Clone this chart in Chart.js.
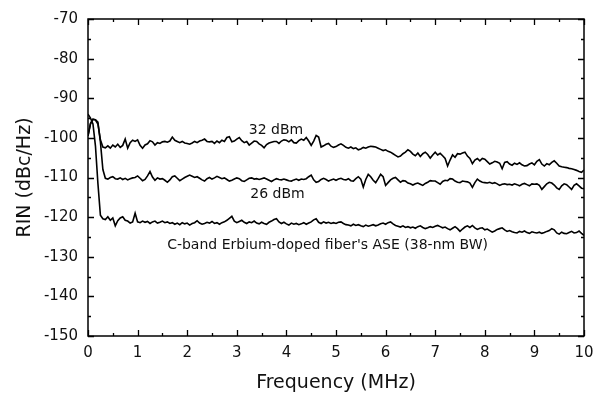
<!DOCTYPE html>
<html>
<head>
<meta charset="utf-8">
<script src="https://cdn.jsdelivr.net/npm/chart.js@4"></script>
<style>
html,body{margin:0;padding:0;background:#fff;}
#wrap{width:611px;height:400px;position:relative;}
</style>
</head>
<body>
<div id="wrap"><canvas id="c" width="611" height="400"></canvas></div>
<script>
const freqMHz = [
0,0.05,0.1,0.15,0.2,0.25,0.3,0.35,0.4,0.45,0.5,0.55,0.6,0.65,0.7,0.75,0.8,0.85,0.9,0.95,
1,1.05,1.1,1.15,1.2,1.25,1.3,1.35,1.4,1.45,1.5,1.55,1.6,1.65,1.7,1.75,1.8,1.85,1.9,1.95,
2,2.05,2.1,2.15,2.2,2.25,2.3,2.35,2.4,2.45,2.5,2.55,2.6,2.65,2.7,2.75,2.8,2.85,2.9,2.95,
3,3.05,3.1,3.15,3.2,3.25,3.3,3.35,3.4,3.45,3.5,3.55,3.6,3.65,3.7,3.75,3.8,3.85,3.9,3.95,
4,4.05,4.1,4.15,4.2,4.25,4.3,4.35,4.4,4.45,4.5,4.55,4.6,4.65,4.7,4.75,4.8,4.85,4.9,4.95,
5,5.05,5.1,5.15,5.2,5.25,5.3,5.35,5.4,5.45,5.5,5.55,5.6,5.65,5.7,5.75,5.8,5.85,5.9,5.95,
6,6.05,6.1,6.15,6.2,6.25,6.3,6.35,6.4,6.45,6.5,6.55,6.6,6.65,6.7,6.75,6.8,6.85,6.9,6.95,
7,7.05,7.1,7.15,7.2,7.25,7.3,7.35,7.4,7.45,7.5,7.55,7.6,7.65,7.7,7.75,7.8,7.85,7.9,7.95,
8,8.05,8.1,8.15,8.2,8.25,8.3,8.35,8.4,8.45,8.5,8.55,8.6,8.65,8.7,8.75,8.8,8.85,8.9,8.95,
9,9.05,9.1,9.15,9.2,9.25,9.3,9.35,9.4,9.45,9.5,9.55,9.6,9.65,9.7,9.75,9.8,9.85,9.9,9.95,
10];

const rin32dBm = [
-99.5,-96.5,-95.3,-95.5,-96.5,-100.5,-102.3,-102.5,-102.0,-102.6,-101.8,-102.3,-101.6,-102.4,-101.9,-100.3,-102.6,-101.2,-100.6,-100.9,
-100.5,-101.9,-102.6,-101.8,-101.5,-100.7,-101.0,-101.8,-101.2,-101.4,-101.0,-100.9,-101.1,-100.8,-99.8,-100.6,-100.9,-101.2,-100.9,-101.3,
-101.4,-101.6,-101.3,-100.9,-101.2,-100.8,-100.6,-100.3,-100.9,-101.0,-100.9,-101.4,-100.8,-101.2,-100.6,-100.9,-99.9,-99.7,-101.0,-100.8,
-100.3,-99.9,-100.7,-101.2,-100.9,-101.8,-101.3,-100.8,-100.9,-101.5,-101.9,-102.5,-101.7,-101.3,-101.1,-100.9,-100.9,-101.4,-100.8,-100.5,
-100.6,-101.0,-100.5,-101.2,-101.3,-100.7,-100.3,-100.6,-99.9,-100.8,-101.9,-100.8,-99.4,-99.8,-102.3,-102.0,-101.6,-101.4,-102.1,-102.4,
-102.2,-101.8,-101.5,-101.9,-102.4,-102.6,-102.3,-102.7,-102.5,-103.0,-102.8,-102.4,-102.6,-102.3,-102.1,-102.2,-102.3,-102.6,-102.9,-103.2,
-103.0,-103.4,-103.6,-104.0,-104.4,-104.8,-104.6,-104.0,-103.6,-103.0,-103.4,-104.1,-104.5,-103.8,-104.7,-104.0,-103.6,-104.2,-105.1,-104.3,
-103.6,-104.3,-103.9,-104.5,-105.2,-107.1,-105.6,-104.3,-104.9,-104.0,-104.1,-103.8,-103.6,-104.6,-105.2,-106.5,-105.6,-105.2,-105.8,-105.2,
-105.4,-106.0,-106.6,-106.3,-105.9,-106.1,-106.4,-107.8,-106.2,-106.0,-106.6,-106.9,-106.4,-106.7,-106.3,-106.8,-107.1,-107.0,-106.6,-106.3,
-106.8,-105.9,-105.5,-106.6,-107.1,-106.5,-106.8,-106.2,-105.8,-106.4,-107.1,-107.3,-107.4,-107.5,-107.7,-107.8,-108.0,-108.2,-108.5,-108.7,
-108.1];

const rin26dBm = [
-99.5,-96.3,-95.3,-95.4,-96.0,-101.0,-108.0,-110.2,-110.4,-110.0,-109.8,-110.3,-110.4,-110.1,-110.5,-110.2,-110.6,-110.3,-110.1,-110.0,
-109.6,-110.2,-110.8,-110.5,-109.6,-108.5,-109.9,-110.7,-110.1,-110.4,-110.3,-110.7,-111.2,-110.6,-109.8,-109.6,-110.2,-110.8,-110.4,-110.0,
-109.7,-109.4,-109.7,-110.0,-109.8,-110.2,-110.6,-110.9,-110.3,-110.0,-110.4,-110.1,-109.7,-110.0,-110.3,-110.1,-110.5,-110.9,-110.7,-110.4,
-110.1,-110.3,-110.8,-111.0,-110.6,-110.2,-110.1,-110.4,-110.3,-110.5,-110.3,-110.1,-110.4,-110.7,-111.0,-110.6,-110.3,-110.5,-110.6,-110.4,
-110.6,-110.8,-110.9,-110.6,-110.4,-110.7,-110.4,-110.5,-110.3,-109.8,-109.4,-110.6,-111.2,-111.0,-110.5,-110.2,-110.5,-110.9,-110.6,-110.4,
-110.7,-110.4,-110.2,-110.5,-110.6,-110.3,-110.8,-110.9,-110.3,-109.8,-110.4,-112.4,-110.5,-109.2,-109.8,-110.7,-111.3,-110.3,-109.2,-109.8,
-112.0,-111.3,-110.6,-110.2,-110.0,-110.6,-111.2,-110.8,-110.9,-111.4,-111.6,-111.9,-111.6,-111.4,-111.7,-112.0,-111.5,-111.2,-110.8,-110.9,
-110.9,-111.3,-111.7,-111.0,-110.7,-110.8,-110.3,-110.4,-110.9,-111.2,-111.3,-110.9,-111.0,-111.1,-111.4,-112.5,-111.3,-110.4,-110.9,-111.2,
-111.3,-111.4,-111.2,-111.5,-111.3,-111.6,-112.0,-111.7,-111.6,-111.8,-111.7,-111.9,-111.6,-111.8,-112.1,-111.7,-111.5,-111.8,-112.1,-111.6,
-111.7,-111.6,-112.0,-113.0,-112.3,-111.6,-111.2,-111.4,-111.9,-112.6,-113.0,-112.1,-111.6,-111.8,-112.4,-113.0,-112.0,-111.6,-112.1,-112.7,
-112.8];

const rinASE = [
-94.0,-95.0,-96.5,-102.0,-111.5,-119.5,-120.4,-120.6,-119.9,-120.8,-120.2,-122.2,-120.9,-120.2,-119.9,-120.8,-121.0,-121.5,-121.2,-119.0,
-121.2,-121.4,-121.0,-121.3,-121.1,-121.6,-121.2,-121.0,-121.5,-121.3,-121.0,-121.4,-121.2,-121.6,-121.4,-121.8,-121.5,-121.9,-121.4,-121.7,
-121.5,-122.0,-121.6,-121.4,-120.9,-121.5,-121.8,-121.6,-121.3,-121.5,-121.1,-121.6,-121.4,-121.8,-121.4,-121.2,-120.8,-120.3,-119.8,-121.0,
-121.4,-121.1,-120.8,-121.3,-121.6,-121.2,-121.4,-121.0,-121.5,-121.7,-121.3,-121.6,-121.8,-121.3,-121.0,-120.6,-120.4,-121.2,-121.6,-121.3,
-121.7,-122.0,-121.5,-121.8,-121.6,-121.9,-121.7,-121.4,-121.8,-121.5,-121.2,-120.7,-120.4,-121.3,-121.6,-121.2,-121.5,-121.3,-121.6,-121.4,
-121.6,-121.3,-121.2,-121.6,-121.9,-122.0,-122.2,-121.8,-122.1,-121.9,-122.2,-122.4,-122.0,-122.3,-122.1,-121.9,-122.2,-122.0,-121.7,-121.5,
-121.8,-121.4,-121.2,-121.7,-122.1,-122.3,-122.5,-122.2,-122.6,-122.4,-122.7,-122.5,-122.8,-122.4,-122.2,-122.6,-122.9,-122.7,-122.4,-122.6,
-122.3,-122.1,-122.4,-122.7,-122.5,-122.9,-123.2,-122.8,-122.4,-122.9,-123.6,-123.0,-122.5,-122.2,-122.6,-122.1,-122.7,-123.1,-122.8,-122.7,
-123.2,-123.0,-123.4,-123.8,-123.5,-123.1,-122.9,-122.7,-123.2,-123.6,-123.4,-123.7,-123.9,-124.0,-123.6,-123.8,-123.5,-123.9,-124.1,-123.7,
-123.9,-124.0,-123.8,-124.1,-123.9,-123.6,-123.4,-122.9,-123.2,-124.0,-124.3,-123.8,-124.1,-124.2,-123.9,-123.6,-124.0,-123.9,-123.5,-124.1,
-124.6];

const xTicks = [0,1,2,3,4,5,6,7,8,9,10];
const yTicks = [-150,-140,-130,-120,-110,-100,-90,-80,-70];
const annotations = [
  {text: '32 dBm', x: 3.79, y: -98.1},
  {text: '26 dBm', x: 3.82, y: -114.3},
  {text: "C-band Erbium-doped fiber's ASE (38-nm BW)", x: 4.83, y: -127.1}
];

const FONT = "'DejaVu Sans', sans-serif";

const framePlugin = {
  id: 'frame',
  afterDatasetsDraw(chart) {
    const {ctx, chartArea: a, scales: {x, y}} = chart;
    ctx.save();
    ctx.strokeStyle = '#000';
    ctx.lineWidth = 1.5;
    ctx.strokeRect(a.left, a.top, a.right - a.left, a.bottom - a.top);
    ctx.lineWidth = 1.3;
    ctx.beginPath();
    for (let v = x.min; v <= x.max + 1e-9; v += 0.5) {
      const px = Math.round(x.getPixelForValue(v)) + 0.5;
      const major = Math.abs(v - Math.round(v)) < 1e-6;
      const L = major ? 6 : 3;
      ctx.moveTo(px, a.bottom); ctx.lineTo(px, a.bottom - L);
      ctx.moveTo(px, a.top); ctx.lineTo(px, a.top + L);
    }
    for (let v = y.min; v <= y.max + 1e-9; v += 5) {
      const py = Math.round(y.getPixelForValue(v)) + 0.5;
      const major = Math.abs(v / 10 - Math.round(v / 10)) < 1e-6;
      const L = major ? 6 : 3;
      ctx.moveTo(a.left, py); ctx.lineTo(a.left + L, py);
      ctx.moveTo(a.right, py); ctx.lineTo(a.right - L, py);
    }
    ctx.stroke();
    ctx.fillStyle = '#111';
    ctx.font = "14px " + FONT;
    ctx.textAlign = 'center';
    ctx.textBaseline = 'middle';
    annotations.forEach(an => {
      ctx.fillText(an.text, x.getPixelForValue(an.x), y.getPixelForValue(an.y));
    });
    ctx.restore();
  }
};

const mk = (arr) => freqMHz.map((f, i) => ({x: f, y: arr[i]}));
const lineStyle = {borderColor: '#000', borderWidth: 1.6, pointRadius: 0, tension: 0, fill: false};

new Chart(document.getElementById('c'), {
  type: 'line',
  data: {
    datasets: [
      Object.assign({label: '32 dBm', data: mk(rin32dBm)}, lineStyle),
      Object.assign({label: '26 dBm', data: mk(rin26dBm)}, lineStyle),
      Object.assign({label: 'ASE', data: mk(rinASE)}, lineStyle)
    ]
  },
  options: {
    responsive: false,
    animation: false,
    events: [],
    layout: {padding: {top: 11, right: 27, left: 0, bottom: 0}},
    plugins: {legend: {display: false}, tooltip: {enabled: false}},
    scales: {
      x: {
        type: 'linear', min: 0, max: 10,
        afterFit: s => { s.height = 64; },
        afterBuildTicks: s => { s.ticks = xTicks.map(v => ({value: v})); },
        grid: {display: false, drawTicks: false},
        border: {display: false},
        ticks: {color: '#111', font: {family: FONT, size: 15}, padding: 8, maxRotation: 0, autoSkip: false},
        title: {display: true, text: 'Frequency (MHz)', color: '#111', font: {family: FONT, size: 19}, padding: {top: 0, bottom: 6}}
      },
      y: {
        type: 'linear', min: -150, max: -70,
        afterFit: s => { s.width = 88; },
        afterBuildTicks: s => { s.ticks = yTicks.map(v => ({value: v})); },
        grid: {display: false, drawTicks: false},
        border: {display: false},
        ticks: {color: '#111', font: {family: FONT, size: 15}, padding: 10, autoSkip: false},
        title: {display: true, text: 'RIN (dBc/Hz)', color: '#111', font: {family: FONT, size: 19}, padding: {top: 14, bottom: 0}}
      }
    }
  },
  plugins: [framePlugin]
});
</script>
</body>
</html>
